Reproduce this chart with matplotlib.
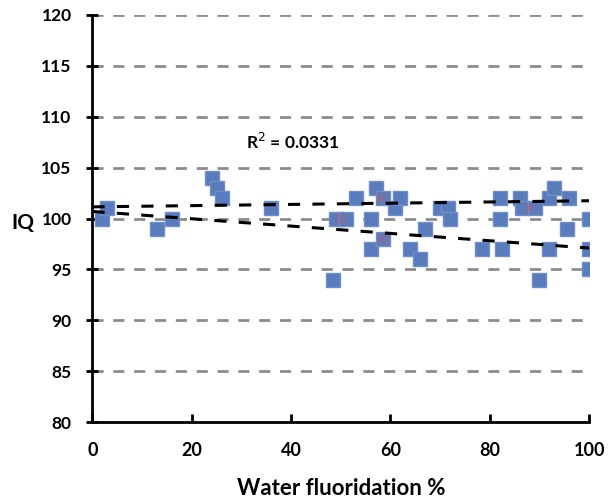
import numpy as np
import matplotlib
matplotlib.use('Agg')
import matplotlib.pyplot as plt

plt.rcParams['font.family'] = ['Lato', 'DejaVu Sans']

# blue squares: water fluoridation % vs IQ
fluor = [2, 3, 13, 16, 24, 25, 26, 36, 48.5, 49, 51, 53, 56, 56, 57, 58.5,
         58.5, 61, 62, 64, 66, 67, 70, 71.5, 72, 78.5, 82, 82, 82.5, 86,
         86.5, 89, 90, 92, 92, 93, 95.5, 96, 100, 100, 100]
iq = [100, 101, 99, 100, 104, 103, 102, 101, 94, 100, 100, 102, 100, 97, 103, 102,
      98, 101, 102, 97, 96, 99, 101, 101, 100, 97, 102, 100, 97, 102,
      101, 101, 94, 102, 97, 103, 99, 102, 100, 97, 95]

# faint red x markers sitting on some squares
fluor_x = [50, 58, 58.5, 88]
iq_x = [100, 102, 98, 101]

# dashed trend lines (value at x=0 and x=100)
trend_x = [0, 100]
trend_upper = [101.15, 101.75]
trend_lower = [100.7, 97.1]

fig = plt.figure(figsize=(6.08, 4.99), dpi=100)
ax = fig.add_axes([0.152, 0.154, 0.817, 0.816])

for v in range(85, 121, 5):
    ax.axhline(v, color='#8c8c8c', lw=2, ls=(0, (4, 3.5)), zorder=1)

ax.plot(fluor, iq, 's', color='#5a7cbc', mec='#6f8fc8', ms=10, zorder=3)
ax.plot(fluor_x, iq_x, 'x', color='#b0607a', ms=7, mew=1.3, alpha=0.7, zorder=3.5)
ax.plot(trend_x, trend_upper, color='black', lw=2.2, ls=(0, (4, 4)), zorder=4)
ax.plot(trend_x, trend_lower, color='black', lw=2.2, ls=(0, (4, 4)), zorder=4)

ax.text(31, 107.5, 'R$^2$ = 0.0331', fontsize=12.5, fontweight='bold', va='center')

ax.set_xlim(0, 100)
ax.set_ylim(80, 120)
ax.set_xticks(range(0, 101, 20))
ax.set_yticks(range(80, 121, 5))
for s in ['top', 'right']:
    ax.spines[s].set_visible(False)
for s in ['left', 'bottom']:
    ax.spines[s].set_linewidth(2)
ax.tick_params(axis='y', direction='inout', length=8, width=2, pad=11, labelsize=12.5)
ax.tick_params(axis='x', direction='in', length=6, width=2, pad=14, labelsize=13)
for lab in ax.get_xticklabels() + ax.get_yticklabels():
    lab.set_fontweight('bold')

ax.set_xlabel('Water fluoridation %', fontsize=16, fontweight='bold', va='center')
ax.xaxis.set_label_coords(0.5, -0.162)
ax.set_ylabel('IQ', fontsize=15, fontweight='bold', rotation=0, va='center', ha='center')
ax.yaxis.set_label_coords(-0.139, 0.49)

fig.savefig('out.png', dpi=100)
